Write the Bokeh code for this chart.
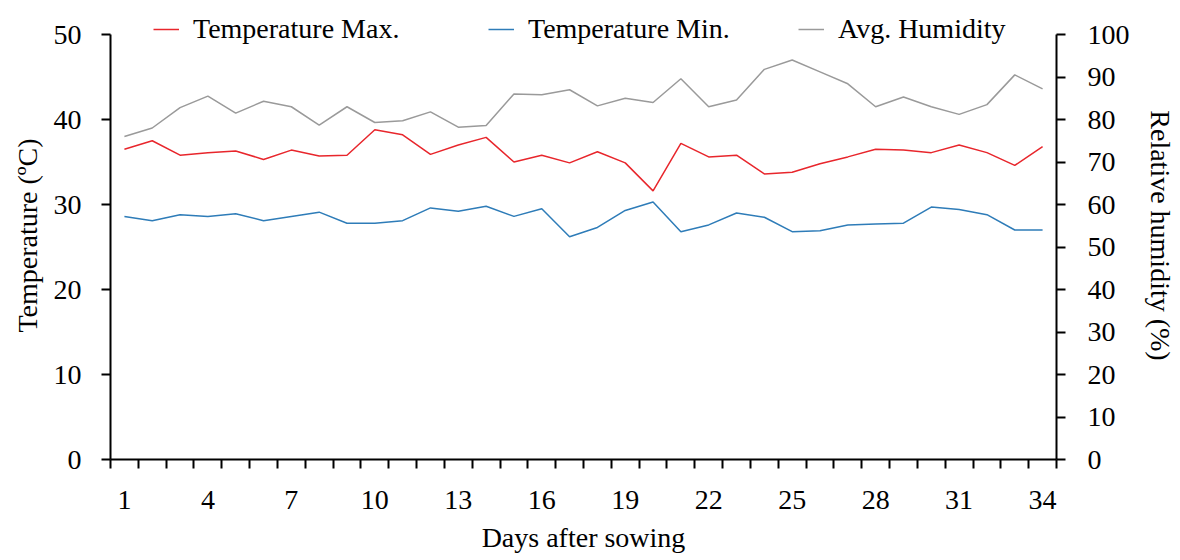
from bokeh.plotting import figure
from bokeh.models import Range1d, LinearAxis, FixedTicker, Legend, LegendItem
from bokeh.embed import file_html
from bokeh.resources import INLINE

days = list(range(1, 35))
temp_max = [36.5, 37.5, 35.8, 36.1, 36.3, 35.3, 36.4, 35.7, 35.8, 38.8,
            38.2, 35.9, 37.0, 37.9, 35.0, 35.8, 34.9, 36.2, 34.9, 31.6,
            37.2, 35.6, 35.8, 33.6, 33.8, 34.8, 35.6, 36.5, 36.4, 36.1,
            37.0, 36.1, 34.6, 36.8]
temp_min = [28.6, 28.1, 28.8, 28.6, 28.9, 28.1, 28.6, 29.1, 27.8, 27.8,
            28.1, 29.6, 29.2, 29.8, 28.6, 29.5, 26.2, 27.3, 29.3, 30.3,
            26.8, 27.6, 29.0, 28.5, 26.8, 26.9, 27.6, 27.7, 27.8, 29.7,
            29.4, 28.8, 27.0, 27.0]
humidity = [76.0, 78.0, 82.8, 85.5, 81.5, 84.3, 83.0, 78.7, 83.0, 79.3,
            79.7, 81.8, 78.2, 78.6, 86.0, 85.8, 87.0, 83.2, 85.0, 84.0,
            89.6, 83.0, 84.6, 91.8, 94.0, 91.2, 88.4, 83.0, 85.3, 83.0,
            81.2, 83.5, 90.5, 87.2]
x_tick_labels = [1, 4, 7, 10, 13, 16, 19, 22, 25, 28, 31, 34]
left_ticks = [0, 10, 20, 30, 40, 50]
right_ticks = [0, 10, 20, 30, 40, 50, 60, 70, 80, 90, 100]
series_names = ["Temperature Max.", "Temperature Min.", "Avg. Humidity"]

FONT = "Liberation Serif"
FS = "28px"

# frame: 425 px covers 0..50; extra headroom above for the legend
FRAME_H = 448
top_left = 50 * FRAME_H / 425.0
top_right = 100 * FRAME_H / 425.0

p = figure(width=1164, height=544, frame_width=946, frame_height=FRAME_H,
           output_backend="svg", toolbar_location=None,
           x_range=Range1d(0.5, 34.5), y_range=Range1d(0, top_left),
           min_border_left=110, min_border_top=11, min_border_right=108,
           min_border_bottom=85, x_axis_location=None, y_axis_location=None)
p.extra_y_ranges = {"hum": Range1d(0, top_right)}
p.outline_line_color = None
p.xgrid.visible = False
p.ygrid.visible = False
p.background_fill_color = "white"
p.border_fill_color = "white"

def style(ax):
    ax.axis_line_width = 2
    ax.axis_line_color = "black"
    ax.major_tick_line_width = 2
    ax.minor_tick_line_width = 2
    ax.major_tick_in = 0
    ax.minor_tick_in = 0
    ax.major_label_text_font = FONT
    ax.major_label_text_font_size = FS
    ax.major_label_text_color = "black"
    ax.axis_label_text_font = FONT
    ax.axis_label_text_font_size = FS
    ax.axis_label_text_font_style = "normal"
    ax.axis_label_text_color = "black"

xax = LinearAxis(axis_label="Days after sowing",
                 ticker=FixedTicker(ticks=x_tick_labels,
                                    minor_ticks=[d - 0.5 for d in days] + [34.5]))
style(xax)
xax.major_tick_out = 0
xax.minor_tick_out = 9
xax.major_label_standoff = 22
xax.axis_label_standoff = 10
p.add_layout(xax, "below")

yax = LinearAxis(axis_label="Temperature (ºC)", bounds=(0, 50),
                 ticker=FixedTicker(ticks=left_ticks, minor_ticks=[]))
style(yax)
yax.major_tick_out = 9
yax.major_label_standoff = 20
yax.axis_label_standoff = 8
p.add_layout(yax, "left")

y2 = LinearAxis(y_range_name="hum", axis_label="Relative humidity (%)", bounds=(0, 100),
                ticker=FixedTicker(ticks=right_ticks, minor_ticks=[]))
style(y2)
y2.major_tick_out = 9
y2.major_label_standoff = 22
y2.axis_label_standoff = 12
p.add_layout(y2, "right")

r_max = p.line(days, temp_max, line_color="#e8262c", line_width=1.5)
r_min = p.line(days, temp_min, line_color="#2e7cb8", line_width=1.5)
r_hum = p.line(days, humidity, line_color="#9a9a9a", line_width=1.5, y_range_name="hum")

# one legend per series, each placed where the reference shows it
legend_x = [43, 378, 688]
for name, r, lx in zip(series_names, [r_max, r_min, r_hum], legend_x):
    lg = Legend(items=[LegendItem(label=name, renderers=[r])],
                orientation="horizontal", location=(lx, FRAME_H - 34),
                label_text_font=FONT, label_text_font_size=FS,
                label_text_color="black", glyph_width=26, glyph_height=30,
                label_height=30, label_standoff=14, padding=0, margin=0,
                border_line_color=None, background_fill_alpha=0)
    p.add_layout(lg, "center")

open("out.html", "w").write(file_html(p, INLINE))
